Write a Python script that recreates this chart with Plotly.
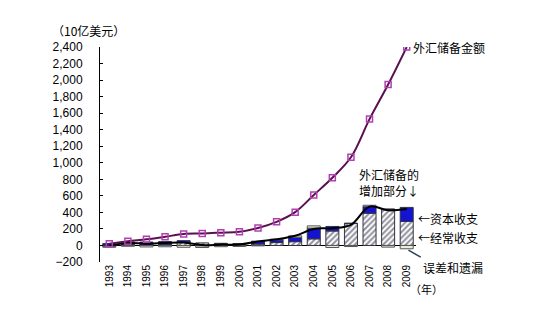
import plotly.graph_objects as go

years = [str(y) for y in range(1993, 2010)]
reserves = [21, 52, 74, 105, 140, 145, 155, 166, 212, 286, 403, 610, 819, 1066, 1528, 1946, 2399]
increase = [2, 30, 22, 31, 35, 5, 10, 11, 47, 74, 117, 200, 209, 250, 470, 425, 440]
current = [-12, 8, 2, 7, 37, 31, 21, 21, 17, 35, 46, 80, 175, 265, 390, 436, 290]
capital = [23, 33, 39, 40, 21, -6, 5, 2, 35, 32, 53, 130, 55, 5, 80, 5, 170]
errors = [-10, -10, -18, -16, -22, -19, -15, -12, -5, 8, 18, 27, -25, -13, 16, -20, -40]
yticks = list(range(-200, 2401, 200))

FONT = "Liberation Sans, Noto Sans CJK SC, sans-serif"

fig = go.Figure()
fig.add_trace(go.Bar(x=years, y=current, name="经常收支",
                     marker=dict(color="white", line=dict(color="#333344", width=1),
                                 pattern=dict(shape="/", fgcolor="#22223a", bgcolor="white", size=4, solidity=0.5))))
fig.add_trace(go.Bar(x=years, y=capital, name="资本收支",
                     marker=dict(color="#1414d0", line=dict(color="#333344", width=1))))
fig.add_trace(go.Bar(x=years, y=errors, name="误差和遗漏",
                     marker=dict(color="#ececdc", line=dict(color="#555555", width=1))))
fig.add_trace(go.Scatter(x=years, y=increase, mode="lines", line=dict(color="black", width=2, shape="spline"),
                         name="外汇储备的增加部分"))
fig.add_trace(go.Scatter(x=years, y=reserves, mode="lines+markers",
                         line=dict(color="#5a1050", width=2, shape="spline"),
                         marker=dict(symbol="square-open", size=6, color="#b040b0", line=dict(width=1.5)),
                         name="外汇储备金额"))

ann_font = dict(family="Noto Sans CJK SC, sans-serif", size=12, color="black")
annotations = [
    dict(x=16, y=2400, xref="x", yref="y", text="外汇储备金额", showarrow=False,
         xanchor="left", yanchor="middle", xshift=4, font=ann_font),
    dict(x=13.3, y=535, xref="x", yref="y", text="外汇储备的<br>增加部分↓", showarrow=False,
         xanchor="left", yanchor="bottom", align="left", font=ann_font),
    dict(x=16, y=330, xref="x", yref="y", text="←资本收支", showarrow=False,
         xanchor="left", yanchor="middle", xshift=9, font=ann_font),
    dict(x=16, y=100, xref="x", yref="y", text="←经常收支", showarrow=False,
         xanchor="left", yanchor="middle", xshift=9, font=ann_font),
    dict(x=16, y=-45, xref="x", yref="y", text="误差和遗漏", showarrow=True,
         arrowhead=0, arrowwidth=1.5, ax=14, ay=8, axref="pixel", ayref="pixel",
         xanchor="left", yanchor="top", font=ann_font, standoff=2),
    dict(x=1, y=0, xref="paper", yref="paper", text="（年）", showarrow=False,
         xanchor="left", yanchor="middle", xshift=-8, yshift=-27,
         font=dict(family="Noto Sans CJK SC, sans-serif", size=11)),
    dict(x=0, y=1, xref="paper", yref="paper", text="（10亿美元）", showarrow=False,
         xanchor="left", yanchor="bottom", xshift=-50, yshift=6,
         font=dict(family="Noto Sans CJK SC, sans-serif", size=12)),
]

fig.update_layout(
    width=554, height=331,
    margin=dict(l=100, r=138, t=47, b=69),
    paper_bgcolor="white", plot_bgcolor="white",
    barmode="relative", bargap=0.3,
    showlegend=False,
    font=dict(family=FONT, size=12, color="black"),
    annotations=annotations,
)
fig.update_xaxes(type="category", showgrid=False, showline=False, ticks="", tickangle=-90,
                 tickfont=dict(size=10), range=[-0.5, 16.5])
fig.update_yaxes(range=[-200, 2400], tickvals=yticks, tickformat=",", showgrid=False,
                 showline=True, linecolor="black", linewidth=1, ticks="inside", ticklen=3,
                 tickcolor="black", zeroline=True, zerolinecolor="black", zerolinewidth=1,
                 ticklabelstandoff=14, tickfont=dict(size=12))

fig.write_html("out.html")
